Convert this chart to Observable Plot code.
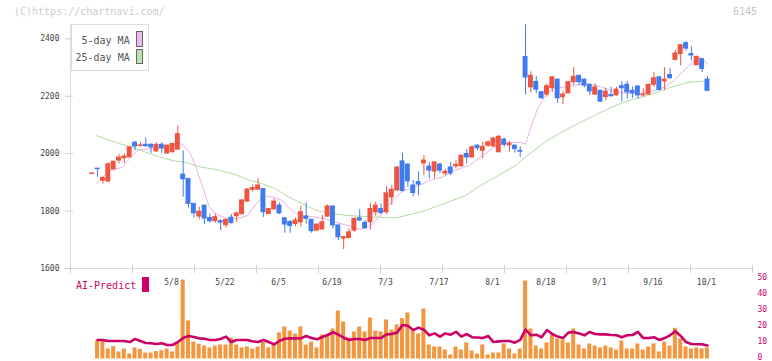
<!DOCTYPE html>
<html><head><meta charset="utf-8">
<script src="https://cdn.jsdelivr.net/npm/d3@7"></script>
<script src="https://cdn.jsdelivr.net/npm/@observablehq/plot@0.6"></script>
<style>
body{margin:0;background:#fff;}
#wrap{position:relative;width:772px;height:361px;overflow:hidden;font-family:"DejaVu Sans Mono",monospace;background:#fff;}
#wrap svg{position:absolute;left:0;}
.t{position:absolute;white-space:nowrap;line-height:1;font-size:10px;}
.sw{position:absolute;box-sizing:border-box;}
</style></head><body><div id="wrap"></div>
<script>
// ---- data (trading-day index 0..115, 2025-04-14 .. 2025-10-01) ----
const open = [1929,1948,1906,1903,1945,1976,1984,1987,2038,2027,
2031,2031,2008,2031,2001,2005,2014,1927,1912,1825,
1781,1819,1776,1765,1765,1751,1777,1782,1789,1833,
1874,1875,1877,1790,1806,1819,1775,1762,1755,1761,
1781,1770,1732,1736,1781,1816,1750,1704,1706,1732,
1775,1759,1761,1796,1807,1796,1848,1872,1973,1962,
1889,1901,1966,1955,1938,1962,1931,1952,1956,1956,
1999,1987,2028,2010,2028,2025,2005,2049,2029,2028,
2010,2337,2231,2250,2214,2206,2228,2258,2197,2210,
2249,2271,2258,2240,2206,2219,2197,2204,2203,2235,
2240,2219,2234,2203,2206,2240,2266,2252,2274,2327,
2347,2385,2347,2308,2329,2258];
const high = [1931,1948,1918,1968,1974,1997,1999,2025,2043,2040,
2054,2034,2038,2038,2028,2036,2097,2010,1914,1825,
1813,1819,1790,1790,1770,1773,1788,1796,1840,1878,
1891,1912,1877,1809,1842,1828,1775,1767,1776,1816,
1829,1770,1755,1785,1822,1818,1750,1711,1738,1776,
1805,1767,1827,1831,1825,1885,1889,1955,2001,1965,
1906,1937,1993,1970,1970,1966,1945,1970,1976,1995,
2014,2028,2030,2039,2045,2056,2063,2054,2042,2030,
2024,2449,2285,2268,2217,2243,2268,2260,2216,2251,
2300,2273,2260,2243,2243,2221,2228,2231,2231,2251,
2252,2231,2236,2226,2242,2283,2268,2300,2297,2360,
2381,2390,2372,2340,2331,2268];
const low = [1929,1918,1894,1900,1945,1964,1966,1987,2010,2022,
2022,2001,2005,2001,1997,2003,2014,1848,1811,1776,
1770,1753,1758,1758,1732,1741,1755,1761,1787,1830,
1866,1873,1778,1788,1804,1788,1723,1723,1746,1744,
1755,1723,1730,1734,1779,1738,1697,1666,1704,1726,
1765,1736,1734,1782,1788,1788,1819,1870,1866,1883,
1850,1854,1923,1912,1912,1931,1923,1923,1947,1954,
1964,1985,2010,1982,2022,2023,2003,2022,2005,2002,
1987,2205,2213,2210,2190,2197,2213,2175,2171,2208,
2237,2237,2230,2203,2203,2179,2184,2197,2201,2181,
2190,2193,2190,2197,2204,2231,2219,2219,2259,2323,
2306,2357,2323,2306,2283,2216];
const close = [1931,1946,1915,1963,1972,1986,1990,2022,2025,2029,
2026,2022,2031,2018,2028,2034,2068,1911,1825,1792,
1798,1774,1765,1779,1760,1769,1758,1792,1837,1875,
1880,1889,1796,1807,1833,1792,1753,1748,1767,1796,
1773,1730,1753,1761,1816,1750,1709,1709,1726,1773,
1767,1740,1807,1819,1793,1862,1874,1952,1870,1904,
1863,1892,1976,1941,1970,1941,1937,1931,1961,1993,
1987,2022,2019,2024,2039,2053,2059,2031,2034,2016,
2007,2265,2271,2223,2193,2235,2266,2193,2206,2249,
2268,2249,2237,2217,2231,2181,2216,2200,2223,2228,
2214,2210,2203,2206,2240,2263,2222,2258,2263,2349,
2378,2366,2342,2337,2295,2219];
// 5-day and 25-day moving averages: [index, price]
const ma5 = [[0.8,1895],[3.1,1941],[5.6,1952],[7.2,1987],[8.7,2013],[10.3,2016],[12.1,2022],[14.0,2025],[15.6,2031],[16.8,2034],[18.4,1999],[19.6,1941],[20.7,1880],[21.8,1818],[23.0,1790],[25.2,1774],[27.1,1774],[29.0,1784],[29.9,1808],[31.5,1843],[32.7,1852],[33.9,1848],[35.5,1837],[36.7,1812],[38.0,1792],[39.6,1784],[41.7,1779],[43.6,1773],[45.5,1761],[47.3,1752],[48.6,1746],[50.1,1736],[52.0,1750],[53.6,1778],[54.8,1808],[56.7,1848],[58.2,1871],[60.4,1883],[62.9,1906],[65.4,1918],[67.9,1943],[70.4,1958],[72.6,1988],[75.1,2022],[77.6,2039],[80.1,2039],[81.0,2034],[81.9,2086],[83.2,2155],[84.7,2202],[86.3,2231],[88.1,2231],[90.0,2237],[91.3,2242],[93.1,2242],[95.0,2234],[97.5,2216],[100.0,2211],[102.5,2211],[105.0,2219],[106.8,2231],[108.7,2254],[110.6,2289],[112.4,2323],[113.7,2335],[115.1,2312]];
const ma25 = [[0.8,2063],[2.5,2051],[4.9,2036],[7.5,2022],[10,2005],[12.4,1990],[15,1976],[17.4,1970],[19.9,1955],[23.6,1943],[26.8,1927],[29.2,1909],[31.8,1895],[34.3,1877],[36.7,1850],[39.3,1825],[41.7,1804],[44.2,1792],[46.7,1787],[48.3,1784],[51.1,1781],[56.7,1776],[59.8,1790],[62.3,1802],[64.7,1819],[67.3,1837],[69.8,1854],[72.6,1889],[76,1925],[79.3,1961],[81.3,1993],[85,2045],[88.8,2086],[92.5,2121],[96.3,2155],[100,2184],[103.7,2202],[107.5,2227],[111.2,2248],[115,2254]];
// lower panel: volume bars and AI-Predict line (right axis units)
const volume = [null,11.25,11.25,6.25,7.7,4.4,6.25,3.1,6.9,6.0,
3.75,3.75,4.6,5.2,6.25,4.4,10.6,49.4,23.75,10.6,
9.2,8.1,6.9,8.1,8.75,8.75,13.1,8.75,6.9,7.5,
6.25,7.5,10.6,6.9,9.4,16.25,20.0,17.5,15.6,20.0,
8.75,10.6,6.9,15.0,15.0,18.75,30.0,23.1,13.1,16.9,
20.0,16.9,25.6,17.5,16.9,24.4,18.1,21.25,25.2,28.75,
17.5,15.6,31.25,8.75,7.5,7.5,5.6,2.5,7.5,5.6,
10.0,5.0,3.1,8.75,2.5,3.75,3.75,9.4,6.25,3.1,
6.25,48.75,18.75,8.1,6.25,10.0,15.0,12.5,11.9,10.0,
18.75,8.75,6.25,9.4,8.1,6.9,8.1,6.9,5.6,11.25,
6.25,6.25,9.4,5.6,7.5,9.4,4.4,10.6,8.1,19.2,
12.5,7.5,6.25,6.9,6.25,6.9];
const aiPredict = [null,11.9,11.9,11.25,11.25,11.25,11.25,10.6,12.5,11.25,
10.0,9.8,9.4,9.8,8.75,8.75,10.6,13.1,14.4,13.75,
12.9,12.7,11.9,11.9,12.5,14.0,10.6,11.9,11.9,11.9,
11.0,10.6,11.9,10.6,9.2,11.25,12.7,12.9,12.9,12.9,
14.4,13.1,12.3,13.75,15.0,16.7,15.2,13.3,11.9,12.5,
12.5,11.9,13.1,13.1,13.1,15.4,15.6,16.6,21.2,20.8,
18.1,19.6,18.3,14.8,16.0,14.0,16.0,15.2,17.0,14.0,
15.6,13.6,13.4,13.1,14.4,10.6,11.0,11.25,11.25,10.2,
11.9,18.3,14.8,15.2,13.6,18.1,15.6,14.0,13.1,16.5,
16.9,16.0,14.8,16.9,15.6,15.4,15.4,15.0,14.8,13.6,
14.8,15.0,16.9,13.1,13.1,13.6,11.9,13.1,14.8,17.3,
14.4,10.6,9.4,9.2,9.2,8.5];
const yTicks = [1600,1800,2000,2200,2400];
const rightTicks = [0,10,20,30,40,50];
const dateLabels = ["5/8","5/22","6/5","6/19","7/3","7/17","8/1","8/18","9/1","9/16","10/1"];
const dateIdx = [15,25,35,45,55,65,75,85,95,105,115];

// ---- build ----
const UP = "#ef5441", DOWN = "#3f7aef";
const xDomain = [-4.06, 123.42];
const xTicks = d3.range(12).map(k => xDomain[0] + k * (xDomain[1] - xDomain[0]) / 11);
const candles = open.map((o, i) => ({i, o, h: high[i], l: low[i], c: close[i], col: close[i] >= o ? UP : DOWN}));
const ma5Rows = ma5.map(([i, v]) => ({i, v}));
const ma25Rows = ma25.map(([i, v]) => ({i, v}));
const volRows = volume.map((v, i) => ({i, v})).filter(d => d.v != null);
const aiRows = aiPredict.map((v, i) => ({i, v})).filter(d => d.v != null);
const font = "DejaVu Sans Mono";

const topPlot = Plot.plot({
  width: 772, height: 300, marginLeft: 70, marginRight: 20, marginTop: 24, marginBottom: 32,
  style: {background: "transparent", fontFamily: font, fontSize: "8px", overflow: "visible"},
  x: {domain: xDomain, axis: null, label: null},
  y: {domain: [1600, 2450], axis: null, label: null},
  marks: [
    Plot.ruleX([xDomain[0]], {stroke: "#dcdcdc"}),
    Plot.ruleY([1600], {stroke: "#dcdcdc"}),
    Plot.axisY(yTicks, {tickSize: 8, dx: 3, tickPadding: 6, stroke: "#cfcfcf", fill: "#444", label: null, tickFormat: d => String(d)}),
    Plot.axisX(xTicks, {tickSize: 8, dy: -3, stroke: "#cfcfcf", label: null, tickFormat: () => ""}),
    Plot.axisX(dateIdx, {tickSize: 0, tickPadding: 11, dx: -1, fill: "#444", label: null, tickFormat: d => dateLabels[dateIdx.indexOf(d)]}),
    Plot.line(ma25Rows, {x: "i", y: "v", stroke: "#b2dba2", strokeWidth: 1}),
    Plot.line(ma5Rows, {x: "i", y: "v", stroke: "#e8b2e8", strokeWidth: 1}),
    Plot.ruleX(candles, {x: "i", y1: "l", y2: "h", stroke: "col", strokeWidth: 1}),
    Plot.rect(candles, {x1: d => d.i - 0.46, x2: d => d.i + 0.46, y1: d => Math.min(d.o, d.c), y2: d => Math.max(d.o, d.c), fill: "col", insetTop: -0.5, insetBottom: -0.5})
  ]
});
topPlot.style.top = "0px";

const lowPlot = Plot.plot({
  width: 772, height: 91, marginLeft: 70, marginRight: 20, marginTop: 8.5, marginBottom: 2.5,
  style: {background: "transparent", fontFamily: font, fontSize: "8px", overflow: "visible"},
  x: {domain: xDomain, axis: null, label: null},
  y: {domain: [0, 50], axis: null, label: null},
  marks: [
    Plot.rect(volRows, {x1: d => d.i - 0.375, x2: d => d.i + 0.375, y1: 0, y2: "v", fill: "#f2963f"}),
    Plot.line(aiRows, {x: "i", y: "v", stroke: "#cc0066", strokeWidth: 2.6}),
    Plot.axisY(rightTicks, {anchor: "right", tickSize: 0, tickPadding: 5, dy: -1.5, fill: "#cc0066", label: null, tickFormat: d => String(d)})
  ]
});
lowPlot.style.top = "270px";

const wrap = document.getElementById("wrap");
wrap.appendChild(topPlot);
wrap.appendChild(lowPlot);

function addText(txt, left, top, color, extra) {
  const d = document.createElement("div");
  d.className = "t"; d.textContent = txt;
  d.style.left = left + "px"; d.style.top = top + "px"; d.style.color = color;
  if (extra) Object.assign(d.style, extra);
  wrap.appendChild(d); return d;
}
function addBox(left, top, w, h, styles) {
  const d = document.createElement("div");
  d.className = "sw";
  Object.assign(d.style, {left: left + "px", top: top + "px", width: w + "px", height: h + "px"}, styles);
  wrap.appendChild(d); return d;
}
addText("(C)https://chartnavi.com/", 14, 6.5, "#cccccc");
addText("6145", 733, 6.5, "#c4c4c4");
// legend
addBox(70.5, 24, 78, 47, {border: "1px solid #dddddd", background: "#fff"});
addText("5-day MA", 81.5, 36.3, "#555");
addText("25-day MA", 75.5, 52.9, "#555");
addBox(136, 31.3, 6.8, 15.4, {border: "1px solid #666", background: "#ecbcec"});
addBox(136, 48.6, 6.8, 15, {border: "1px solid #666", background: "#bde0b1"});
// AI-Predict label
addText("AI-Predict", 76, 281.3, "#cc0066");
addBox(142.3, 277, 6.4, 15.3, {background: "#cc0066"});
</script>
</body></html>
